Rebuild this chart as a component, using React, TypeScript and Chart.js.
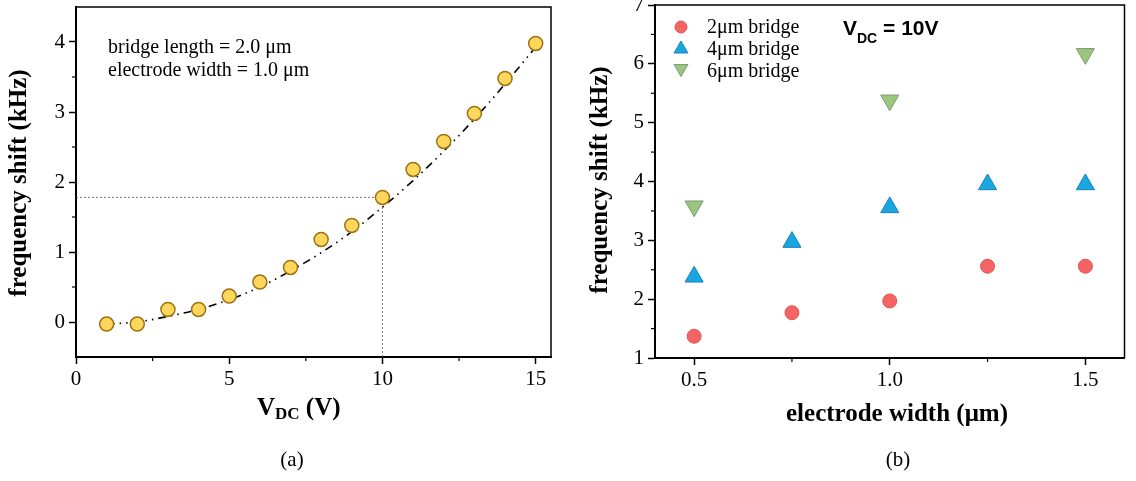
import { useEffect, useRef } from 'react';
import { Chart, registerables } from 'chart.js';
Chart.register(...registerables);

// ---------- data: panel (a) ----------
const voltage = [1, 2, 3, 4, 5, 6, 7, 8, 9, 10, 11, 12, 13, 14, 15];
const shiftA = [-0.03, -0.03, 0.18, 0.18, 0.37, 0.57, 0.78, 1.18, 1.38, 1.78, 2.18, 2.58, 2.98, 3.48, 3.98];
const fitA = [-0.03, 0.0, 0.08, 0.18, 0.32, 0.5, 0.73, 0.99, 1.29, 1.64, 2.02, 2.44, 2.9, 3.4, 3.93];
const refPointA = { x: 10, y: 1.78 };
const xTicksA = [0, 5, 10, 15];
const xMinorA = [2.5, 7.5, 12.5];
const yTicksA = [0, 1, 2, 3, 4];
const yMinorA = [0.5, 1.5, 2.5, 3.5];
const noteA = ['bridge length = 2.0 \u03bcm', 'electrode width = 1.0 \u03bcm'];
const yTitle = 'frequency shift (kHz)';
const xTitleA = ['V', 'DC', ' (V)'];
const captionA = '(a)';

// ---------- data: panel (b) ----------
const widths = [0.5, 0.75, 1.0, 1.25, 1.5];
const bridge2 = [1.37, 1.77, 1.97, 2.56, 2.56];
const bridge4 = [2.38, 2.97, 3.56, 3.95, 3.95];
const widths6 = [0.5, 1.0, 1.5];
const bridge6 = [3.58, 5.38, 6.17];
const seriesNamesB = ['2\u03bcm bridge', '4\u03bcm bridge', '6\u03bcm bridge'];
const xTicksB = [0.5, 1.0, 1.5];
const xMinorB = [0.75, 1.25];
const yTicksB = [1, 2, 3, 4, 5, 6, 7];
const yMinorB = [1.5, 2.5, 3.5, 4.5, 5.5, 6.5];
const xTitleB = 'electrode width (\u03bcm)';
const vdcLabel = ['V', 'DC', ' = 10V'];
const captionB = '(b)';

const SERIF = '"Liberation Serif", "Times New Roman", Times, serif';
const SANS = '"Liberation Sans", Arial, Helvetica, sans-serif';
const OFF = 20; // canvas shifted up by this many px
const W = 568;
const H = 521;

const COL = {
  yellow: '#FFD65C', yellowB: '#9A7412',
  red: '#F46464', redB: '#DE5656',
  blue: '#1AA6E0', blueB: '#1785B6',
  green: '#9CC67E', greenB: '#7E9A7A',
};

function drawFrameAndMinor(chart: any, minorX: number[], minorY: number[]) {
  const { ctx, chartArea: ca, scales } = chart;
  ctx.save();
  ctx.strokeStyle = '#000';
  ctx.lineWidth = 1.5;
  ctx.beginPath();
  ctx.moveTo(ca.left, ca.top);
  ctx.lineTo(ca.right, ca.top);
  ctx.lineTo(ca.right, ca.bottom);
  ctx.stroke();
  ctx.lineWidth = 1.2;
  minorX.forEach((v) => {
    const px = scales.x.getPixelForValue(v);
    ctx.beginPath();
    ctx.moveTo(px, ca.bottom);
    ctx.lineTo(px, ca.bottom + 4);
    ctx.stroke();
  });
  minorY.forEach((v) => {
    const py = scales.y.getPixelForValue(v);
    ctx.beginPath();
    ctx.moveTo(ca.left - 4, py);
    ctx.lineTo(ca.left, py);
    ctx.stroke();
  });
  ctx.restore();
}

function drawYTitle(ctx: CanvasRenderingContext2D, x: number, y: number) {
  ctx.save();
  ctx.translate(x, y);
  ctx.rotate(-Math.PI / 2);
  ctx.textAlign = 'center';
  ctx.textBaseline = 'alphabetic';
  ctx.fillStyle = '#000';
  ctx.font = `bold 25px ${SERIF}`;
  ctx.fillText(yTitle, 0, 0);
  ctx.restore();
}

const plugA = {
  id: 'plugA',
  afterDraw(chart: any) {
    const { ctx } = chart;
    drawFrameAndMinor(chart, xMinorA, yMinorA);
    ctx.save();
    ctx.fillStyle = '#000';
    ctx.textAlign = 'left';
    ctx.textBaseline = 'alphabetic';
    ctx.font = `20px ${SERIF}`;
    ctx.fillText(noteA[0], 108, 53 + OFF);
    ctx.fillText(noteA[1], 108, 76 + OFF);
    drawYTitle(ctx, 26, 183 + OFF);
    // x title with subscript
    let x = 257;
    const base = 415 + OFF;
    ctx.font = `bold 25px ${SERIF}`;
    ctx.fillText(xTitleA[0], x, base);
    x += ctx.measureText(xTitleA[0]).width;
    ctx.font = `bold 17px ${SERIF}`;
    ctx.fillText(xTitleA[1], x, base + 4);
    x += ctx.measureText(xTitleA[1]).width;
    ctx.font = `bold 25px ${SERIF}`;
    ctx.fillText(xTitleA[2], x, base);
    // caption
    ctx.textAlign = 'center';
    ctx.font = `21px ${SERIF}`;
    ctx.fillText(captionA, 292, 466 + OFF);
    ctx.restore();
  },
};

function triPath(ctx: CanvasRenderingContext2D, cx: number, cy: number, r: number, down: boolean) {
  const s = down ? -1 : 1;
  const dx = r * Math.sin(Math.PI / 3);
  ctx.beginPath();
  ctx.moveTo(cx, cy - s * r);
  ctx.lineTo(cx + dx, cy + s * r / 2);
  ctx.lineTo(cx - dx, cy + s * r / 2);
  ctx.closePath();
}

const plugB = {
  id: 'plugB',
  afterDraw(chart: any) {
    const { ctx } = chart;
    drawFrameAndMinor(chart, xMinorB, yMinorB);
    ctx.save();
    // legend
    const mx = 681 - W;
    ctx.lineWidth = 1;
    ctx.fillStyle = COL.red; ctx.strokeStyle = COL.redB;
    ctx.beginPath(); ctx.arc(mx, 27 + OFF, 6, 0, Math.PI * 2); ctx.fill(); ctx.stroke();
    ctx.fillStyle = COL.blue; ctx.strokeStyle = COL.blueB;
    triPath(ctx, mx, 49 + OFF, 8, false); ctx.fill(); ctx.stroke();
    ctx.fillStyle = COL.green; ctx.strokeStyle = COL.greenB;
    triPath(ctx, mx, 68.5 + OFF, 8, true); ctx.fill(); ctx.stroke();
    ctx.fillStyle = '#000';
    ctx.textAlign = 'left';
    ctx.textBaseline = 'alphabetic';
    ctx.font = `20px ${SERIF}`;
    ctx.fillText(seriesNamesB[0], 707 - W, 33 + OFF);
    ctx.fillText(seriesNamesB[1], 707 - W, 55 + OFF);
    ctx.fillText(seriesNamesB[2], 707 - W, 77 + OFF);
    // V_DC label
    let x = 843 - W;
    ctx.font = `bold 21px ${SANS}`;
    ctx.fillText(vdcLabel[0], x, 35 + OFF);
    x += ctx.measureText(vdcLabel[0]).width;
    ctx.font = `bold 14px ${SANS}`;
    ctx.fillText(vdcLabel[1], x, 43 + OFF);
    x += ctx.measureText(vdcLabel[1]).width;
    ctx.font = `bold 21px ${SANS}`;
    ctx.fillText(vdcLabel[2], x, 35 + OFF);
    // titles
    drawYTitle(ctx, 607 - W, 180 + OFF);
    ctx.textAlign = 'center';
    ctx.font = `bold 25px ${SERIF}`;
    ctx.fillText(xTitleB, 897 - W, 421 + OFF);
    ctx.font = `21px ${SERIF}`;
    ctx.fillText(captionB, 898 - W, 466 + OFF);
    ctx.restore();
  },
};

function axisCommon(extra: any) {
  return {
    type: 'linear',
    grid: { display: true, drawOnChartArea: false, drawTicks: true, tickLength: 7, tickWidth: 1.5, tickColor: '#000' },
    border: { display: true, width: 2, color: '#000' },
    ticks: { color: '#000', font: { family: SERIF, size: 21 }, padding: 3 },
    ...extra,
  };
}

export default function App() {
  const refA = useRef<HTMLCanvasElement>(null);
  const refB = useRef<HTMLCanvasElement>(null);

  useEffect(() => {
    const chartA = new Chart(refA.current!, {
      type: 'scatter',
      data: {
        datasets: [
          {
            data: voltage.map((v, i) => ({ x: v, y: shiftA[i] })),
            backgroundColor: COL.yellow,
            borderColor: COL.yellowB,
            pointRadius: 7,
            pointBorderWidth: 1.5,
            order: 0,
          },
          {
            data: voltage.map((v, i) => ({ x: v, y: fitA[i] })),
            showLine: true,
            pointRadius: 0,
            borderColor: '#000',
            borderWidth: 1.6,
            borderDash: [8, 5, 1.5, 5, 1.5, 5],
            cubicInterpolationMode: 'monotone',
            order: 1,
          },
          {
            data: [{ x: 0, y: refPointA.y }, { x: refPointA.x, y: refPointA.y }, { x: refPointA.x, y: -0.5 }],
            showLine: true,
            pointRadius: 0,
            borderColor: '#555',
            borderWidth: 0.8,
            borderDash: [2, 2],
            order: 2,
          },
        ],
      } as any,
      options: {
        responsive: false,
        animation: false,
        layout: { padding: { left: 0, top: 27, right: 17, bottom: 0 } },
        plugins: { legend: { display: false }, tooltip: { enabled: false } },
        scales: {
          x: axisCommon({
            min: 0, max: 15.5,
            afterBuildTicks: (ax: any) => { ax.ticks = xTicksA.map((v) => ({ value: v })); },
            afterFit: (ax: any) => { ax.height = H - 377; },
          }),
          y: axisCommon({
            min: -0.5, max: 4.5,
            afterBuildTicks: (ax: any) => { ax.ticks = yTicksA.map((v) => ({ value: v })); },
            afterFit: (ax: any) => { ax.width = 76; },
            ticks: { color: '#000', font: { family: SERIF, size: 21 }, padding: 4 },
          }),
        },
      } as any,
      plugins: [plugA],
    });

    const chartB = new Chart(refB.current!, {
      type: 'scatter',
      data: {
        datasets: [
          {
            data: widths.map((v, i) => ({ x: v, y: bridge2[i] })),
            backgroundColor: COL.red,
            borderColor: COL.redB,
            pointRadius: 7,
            pointBorderWidth: 1,
          },
          {
            data: widths.map((v, i) => ({ x: v, y: bridge4[i] })),
            backgroundColor: COL.blue,
            borderColor: COL.blueB,
            pointStyle: 'triangle',
            pointRadius: 10.5,
            pointBorderWidth: 1,
          },
          {
            data: widths6.map((v, i) => ({ x: v, y: bridge6[i] })),
            backgroundColor: COL.green,
            borderColor: COL.greenB,
            pointStyle: 'triangle',
            rotation: 180,
            pointRotation: 180,
            pointRadius: 10.5,
            pointBorderWidth: 1,
          },
        ],
      } as any,
      options: {
        responsive: false,
        animation: false,
        layout: { padding: { left: 0, top: 25, right: 10, bottom: 0 } },
        plugins: { legend: { display: false }, tooltip: { enabled: false } },
        scales: {
          x: axisCommon({
            min: 0.4, max: 1.6,
            afterBuildTicks: (ax: any) => { ax.ticks = xTicksB.map((v) => ({ value: v })); },
            afterFit: (ax: any) => { ax.height = H - 378; },
            ticks: {
              color: '#000', font: { family: SERIF, size: 21 }, padding: 3,
              callback: (v: any) => Number(v).toFixed(1),
            },
          }),
          y: axisCommon({
            min: 1, max: 7,
            afterBuildTicks: (ax: any) => { ax.ticks = yTicksB.map((v) => ({ value: v })); },
            afterFit: (ax: any) => { ax.width = 87; },
            ticks: { color: '#000', font: { family: SERIF, size: 21 }, padding: 4 },
          }),
        },
      } as any,
      plugins: [plugB],
    });

    return () => {
      chartA.destroy();
      chartB.destroy();
    };
  }, []);

  return (
    <div style={{ position: 'fixed', left: 0, top: 0, width: 1136, height: 481, overflow: 'hidden', background: '#fff' }}>
      <canvas ref={refA} width={W} height={H} style={{ position: 'absolute', left: 0, top: -OFF, width: W, height: H }} />
      <canvas ref={refB} width={W} height={H} style={{ position: 'absolute', left: W, top: -OFF, width: W, height: H }} />
    </div>
  );
}
